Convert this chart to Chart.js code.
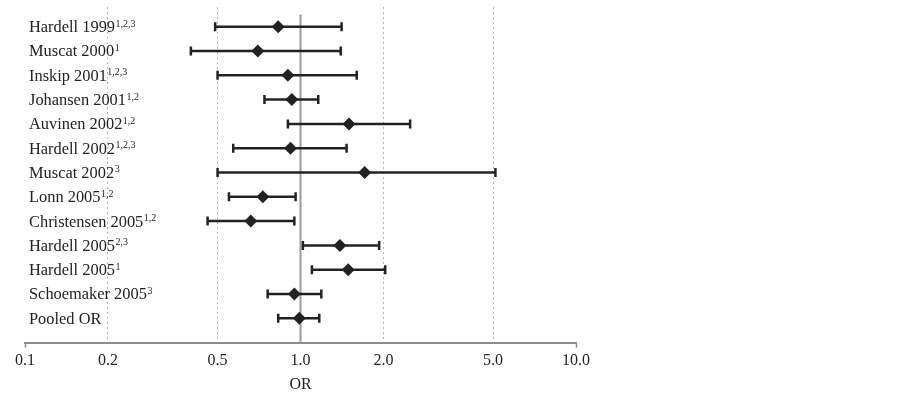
<!DOCTYPE html>
<html>
<head>
<meta charset="utf-8">
<script src="https://cdn.jsdelivr.net/npm/chart.js@4.4.1/dist/chart.umd.min.js"></script>
<style>
  html, body { margin: 0; padding: 0; background: #fff; }
  #wrap { width: 903px; height: 394px; }
</style>
</head>
<body>
<div id="wrap"><canvas id="c" width="903" height="394"></canvas></div>
<script>
// ---- data ----
const studies = ["Hardell 1999", "Muscat 2000", "Inskip 2001", "Johansen 2001", "Auvinen 2002",
  "Hardell 2002", "Muscat 2002", "Lonn 2005", "Christensen 2005", "Hardell 2005",
  "Hardell 2005", "Schoemaker 2005", "Pooled OR"];
const studySups = ["1,2,3", "1", "1,2,3", "1,2", "1,2", "1,2,3", "3", "1,2", "1,2", "2,3", "1", "3", ""];
const oddsRatio = [0.83, 0.70, 0.90, 0.93, 1.50, 0.92, 1.71, 0.73, 0.66, 1.39, 1.49, 0.95, 0.99];
const ciLower   = [0.49, 0.40, 0.50, 0.74, 0.90, 0.57, 0.50, 0.55, 0.46, 1.02, 1.10, 0.76, 0.83];
const ciUpper   = [1.41, 1.40, 1.60, 1.16, 2.50, 1.47, 5.10, 0.96, 0.95, 1.93, 2.03, 1.19, 1.17];
const tickValues = [0.1, 0.2, 0.5, 1.0, 2.0, 5.0, 10.0];
const tickLabels = ["0.1", "0.2", "0.5", "1.0", "2.0", "5.0", "10.0"];
const refValue = 1.0;

const FONT = "'Liberation Serif', 'Times New Roman', serif";
const INK = '#222222';

const rows = studies.map((_, i) => i);
const diamondData = rows.map(i => ({ x: oddsRatio[i], y: i }));
const capData = [];
rows.forEach(i => { capData.push({ x: ciLower[i], y: i }, { x: ciUpper[i], y: i }); });
const refData = [{ x: refValue, y: -0.5 }, { x: refValue, y: 13 }];

const ciDatasets = rows.map(i => ({
  label: 'CI ' + i, type: 'line', data: [{ x: ciLower[i], y: i }, { x: ciUpper[i], y: i }],
  order: 2, showLine: true, borderColor: INK, borderWidth: 2.5, pointRadius: 0,
  pointHoverRadius: 0, fill: false
}));

const labelPlugin = {
  id: 'studyLabels',
  afterDatasetsDraw(chart) {
    const ctx = chart.ctx;
    const ys = chart.scales.y;
    const x0 = 29;
    ctx.save();
    ctx.fillStyle = INK;
    ctx.textBaseline = 'alphabetic';
    ctx.textAlign = 'left';
    studies.forEach((name, i) => {
      const y = ys.getPixelForValue(i) + 5.5;
      ctx.font = '16.4px ' + FONT;
      ctx.fillText(name, x0, y);
      const w = ctx.measureText(name).width;
      if (studySups[i]) {
        ctx.font = '10px ' + FONT;
        ctx.fillText(studySups[i], x0 + w + 0.5, y - 5.5);
      }
    });
    ctx.restore();
  }
};

new Chart(document.getElementById('c'), {
  type: 'scatter',
  data: {
    datasets: [
      { label: 'OR', data: diamondData, order: 0, pointStyle: 'rectRot', pointRadius: 6.5,
        pointHoverRadius: 6.5, backgroundColor: INK, borderColor: INK, borderWidth: 0 },
      { label: 'caps', data: capData, order: 1, pointStyle: 'line', rotation: 90, pointRadius: 4.5,
        pointHoverRadius: 4.5, borderColor: INK, borderWidth: 2.5, backgroundColor: INK },
      ...ciDatasets,
      { label: 'ref', type: 'line', data: refData, order: 3, showLine: true,
        borderColor: '#9a9a9a', borderWidth: 2, pointRadius: 0, pointHoverRadius: 0, fill: false }
    ]
  },
  options: {
    responsive: false,
    animation: false,
    devicePixelRatio: 1,
    layout: { padding: { left: 25, right: 327, top: 3, bottom: 0 } },
    plugins: { legend: { display: false }, tooltip: { enabled: false } },
    scales: {
      x: {
        type: 'logarithmic',
        min: 0.1, max: 10,
        afterBuildTicks(scale) { scale.ticks = tickValues.map(v => ({ value: v })); },
        ticks: {
          autoSkip: false, maxRotation: 0, padding: 4,
          color: INK, font: { family: FONT, size: 16 },
          callback(value, index) { return tickLabels[index]; }
        },
        grid: {
          drawOnChartArea: true,
          color(ctx) {
            const v = ctx.tick && ctx.tick.value;
            return (v === 0.1 || v === 10 || v === refValue) ? 'rgba(0,0,0,0)' : '#b5b5b5';
          },
          lineWidth: 1,
          tickLength: 5,
          tickColor(ctx) {
            const v = ctx.tick && ctx.tick.value;
            return (v === 0.1 || v === 10) ? '#8c8c8c' : 'rgba(0,0,0,0)';
          },
          tickWidth: 1.5
        },
        border: { display: true, color: '#8c8c8c', width: 2, dash: [2, 3] },
        title: { display: true, text: 'OR', color: INK, font: { family: FONT, size: 16 }, padding: { top: 0, bottom: 0 } }
      },
      y: {
        type: 'linear', reverse: true, min: -0.81, max: 13, display: false
      }
    }
  },
  plugins: [labelPlugin]
});
</script>
</body>
</html>
